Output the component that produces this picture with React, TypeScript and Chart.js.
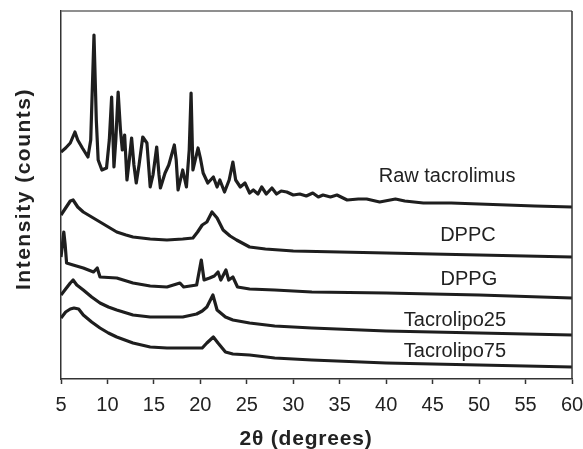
import React, { useEffect, useRef } from "react";
import { Chart, registerables } from "chart.js";

Chart.register(...registerables);

// 2θ positions (degrees) and relative intensities for each pattern
const rawX = [5.0, 5.5, 6.0, 6.5, 6.8, 7.3, 7.9, 8.2, 8.55, 8.8, 9.0, 9.4, 9.9, 10.2, 10.45, 10.7, 10.9, 11.15, 11.4, 11.6, 11.85, 12.1, 12.35, 12.6, 12.85, 13.1, 13.4, 13.8, 14.25, 14.6, 14.9, 15.3, 15.55, 15.7, 16.2, 16.6, 17.2, 17.4, 17.6, 18.1, 18.5, 18.8, 19.0, 19.2, 19.45, 19.75, 20.0, 20.3, 20.8, 21.4, 21.8, 22.1, 22.6, 23.1, 23.5, 23.8, 24.3, 24.8, 25.3, 25.7, 26.2, 26.6, 27.1, 27.7, 28.2, 28.7, 29.3, 30.0, 30.7, 31.4, 32.1, 32.7, 33.2, 34.0, 34.7, 35.8, 37.0, 37.9, 39.3, 41.0, 42.0, 44.0, 47.0, 50.0, 53.0, 56.0, 60.0];
const rawY = [227, 231, 236, 247, 239, 231, 222, 239, 344, 259, 219, 209, 211, 239, 282, 212, 239, 287, 249, 229, 244, 199, 219, 241, 214, 196, 214, 242, 236, 192, 204, 232, 204, 191, 206, 214, 234, 219, 189, 209, 192, 229, 286, 209, 219, 231, 221, 206, 196, 202, 192, 199, 187, 199, 217, 199, 192, 196, 186, 189, 185, 192, 185, 191, 185, 188, 187, 184, 185, 183, 186, 182, 184, 182, 184, 179, 180, 180, 177, 180, 178, 176, 176, 175, 174, 173, 172];

const dppcX = [5.0, 5.5, 6.0, 6.3, 6.8, 7.4, 8.3, 9.2, 10.1, 11.0, 12.0, 12.75, 14.6, 16.4, 18.1, 19.2, 19.7, 20.2, 20.7, 21.25, 21.8, 22.45, 23.2, 23.9, 25.3, 27.0, 30.0, 35.0, 40.0, 45.0, 50.0, 55.0, 60.0];
const dppcY = [164, 171, 178, 179, 172, 167, 162, 157, 152, 147, 144, 142, 140, 139, 140, 141, 147, 154, 157, 167, 161, 149, 143, 139, 132, 130, 128, 127, 126, 125, 124, 123, 122];

const dppgX = [5.0, 5.15, 5.3, 5.45, 5.6, 6.3, 7.4, 8.5, 8.9, 9.2, 11.0, 12.75, 14.6, 16.4, 17.8, 18.2, 19.6, 20.1, 20.4, 21.0, 21.5, 21.9, 22.2, 22.75, 23.05, 23.5, 24.0, 25.3, 28.0, 32.0, 40.0, 50.0, 60.0];
const dppgY = [122, 134, 147, 134, 116, 114, 111, 107, 111, 102, 101, 96, 93, 92, 96, 92, 94, 119, 99, 101, 103, 107, 99, 109, 99, 102, 92, 90, 89, 87, 86, 84, 81];

const t25X = [5.0, 5.5, 6.0, 6.3, 6.7, 7.4, 8.3, 9.2, 10.1, 11.0, 12.75, 14.6, 16.4, 18.1, 19.6, 20.2, 20.7, 21.35, 21.8, 22.7, 23.5, 25.3, 28.0, 32.0, 40.0, 50.0, 60.0];
const t25Y = [84, 90, 96, 99, 94, 89, 82, 76, 72, 69, 64, 62, 62, 62, 65, 68, 72, 84, 69, 62, 59, 56, 53, 51, 48, 46, 44];

const t75X = [5.0, 5.5, 6.0, 6.4, 6.9, 7.4, 8.3, 9.2, 10.1, 11.0, 12.75, 14.6, 16.4, 18.1, 20.2, 20.7, 21.4, 21.9, 22.7, 23.5, 25.3, 28.0, 32.0, 40.0, 50.0, 60.0];
const t75Y = [61, 67, 70, 71, 70, 64, 57, 51, 46, 42, 36, 32, 31, 31, 31, 36, 42, 36, 27, 25, 24, 21, 19, 16, 14, 12];

const seriesNames = ["Raw tacrolimus", "DPPC", "DPPG", "Tacrolipo25", "Tacrolipo75"];
// label anchor positions in data units (2θ, intensity)
const labelX = [46.55, 48.8, 48.9, 47.4, 47.4];
const labelY = [203, 144, 100, 59, 28];

const xTicks = [5, 10, 15, 20, 25, 30, 35, 40, 45, 50, 55, 60];
const xTitle = "2θ (degrees)";
const yTitle = "Intensity (counts)";

const toPoints = (xs: number[], ys: number[]) => xs.map((x, i) => ({ x, y: ys[i] }));

export default function App() {
  const ref = useRef<HTMLCanvasElement | null>(null);

  useEffect(() => {
    if (!ref.current) return;
    const color = "#1e1e1e";
    const xsAll = [rawX, dppcX, dppgX, t25X, t75X];
    const ysAll = [rawY, dppcY, dppgY, t25Y, t75Y];

    const decor = {
      id: "decor",
      afterDraw(chart: any) {
        const { ctx, chartArea, scales } = chart;
        ctx.save();
        // top & right frame
        ctx.strokeStyle = "#6a6a6a";
        ctx.lineWidth = 1.5;
        ctx.beginPath();
        ctx.moveTo(chartArea.left, chartArea.top);
        ctx.lineTo(chartArea.right, chartArea.top);
        ctx.stroke();
        ctx.strokeStyle = "#333";
        ctx.beginPath();
        ctx.moveTo(chartArea.right, chartArea.top);
        ctx.lineTo(chartArea.right, chartArea.bottom);
        ctx.stroke();
        // series labels
        ctx.fillStyle = "#222";
        ctx.font = "20px 'Liberation Sans', Arial, sans-serif";
        ctx.textAlign = "center";
        ctx.textBaseline = "middle";
        seriesNames.forEach((n, i) => {
          ctx.fillText(n, scales.x.getPixelForValue(labelX[i]), scales.y.getPixelForValue(labelY[i]));
        });
        // axis titles
        ctx.font = "bold 21px 'Liberation Sans', Arial, sans-serif";
        (ctx as any).letterSpacing = "0.8px";
        ctx.fillText(xTitle, 306, 439);
        (ctx as any).letterSpacing = "1.5px";
        ctx.translate(24, 189);
        ctx.rotate(-Math.PI / 2);
        ctx.fillText(yTitle, 0, 0);
        ctx.restore();
      },
    };

    const chart = new Chart(ref.current, {
      type: "line",
      data: {
        datasets: seriesNames.map((n, i) => ({
          label: n,
          data: toPoints(xsAll[i], ysAll[i]),
          borderColor: color,
          borderWidth: 3.2,
          pointRadius: 0,
          tension: 0,
          fill: false,
          borderJoinStyle: "round" as const,
        })),
      },
      options: {
        responsive: false,
        animation: false,
        devicePixelRatio: 1,
        layout: { padding: { left: 0, right: 11, top: 11, bottom: 0 } },
        plugins: { legend: { display: false }, tooltip: { enabled: false } },
        scales: {
          x: {
            type: "linear",
            min: 5,
            max: 60,
            afterBuildTicks: (s: any) => {
              s.ticks = xTicks.map((v) => ({ value: v }));
            },
            ticks: {
              color: "#222",
              font: { size: 20, family: "'Liberation Sans', Arial, sans-serif" },
              padding: 9,
              maxRotation: 0,
              autoSkip: false,
            },
            grid: { drawOnChartArea: false, tickLength: 5, color: "#333", tickWidth: 1.5 },
            border: { color: "#333", width: 1.5 },
            afterFit: (s: any) => {
              s.height = 70;
              s.paddingLeft = 0;
              s.paddingRight = 0;
            },
          },
          y: {
            min: 0,
            max: 368,
            ticks: { display: false },
            grid: { display: false },
            border: { display: true, color: "#333", width: 1.5 },
            afterFit: (s: any) => {
              s.width = 61;
              s.paddingTop = 0;
              s.paddingBottom = 0;
            },
          },
        },
      },
      plugins: [decor],
    });
    return () => chart.destroy();
  }, []);

  return (
    <div style={{ position: "fixed", left: 0, top: 0, width: 583, height: 449, background: "#fff" }}>
      <canvas ref={ref} width={583} height={449} style={{ width: 583, height: 449, display: "block" }} />
    </div>
  );
}
